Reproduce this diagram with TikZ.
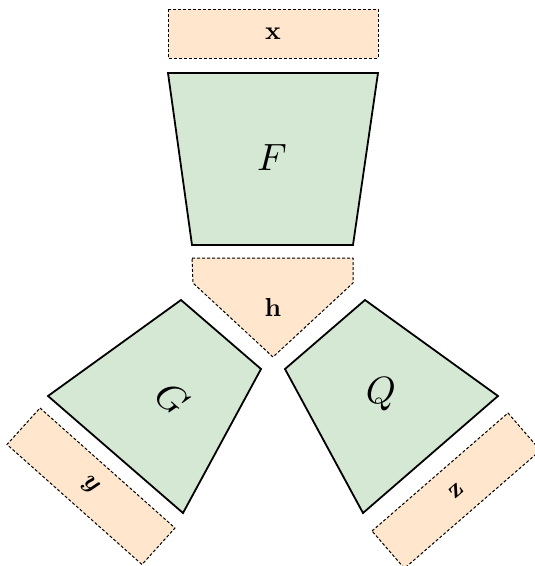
\documentclass[tikz,border=0pt]{standalone}
\usepackage{amsmath,bm}
\definecolor{blockgreen}{HTML}{D5E8D4}
\definecolor{varorange}{HTML}{FFE6CC}
\tikzset{
  netblock/.style={draw=black, line width=1.8pt, fill=blockgreen, line join=miter},
  varbox/.style={draw=black, line width=1pt, dash pattern=on 3pt off 2pt, fill=varorange},
  biglabel/.style={inner sep=0pt, scale=3.8},
  smalllabel/.style={inner sep=0pt, scale=2.6}
}
\begin{document}
\begin{tikzpicture}[x=1pt, y=-1pt]
\useasboundingbox (0,0) rectangle (535,566);
\clip (0,0) rectangle (535,566);
% x box
\draw[varbox] (168,9) rectangle (378,58);
% F block
\draw[netblock] (168,73) -- (378,73) -- (353,245) -- (192,245) -- cycle;
% h pentagon
\draw[varbox] (192,258) -- (353,258) -- (353,283) -- (273,357) -- (193,283) -- cycle;
% G block
\draw[netblock] (181,300) -- (261,369) -- (183,513) -- (48,396) -- cycle;
% Q block
\draw[netblock] (365,300) -- (498,396) -- (363,513) -- (285,369) -- cycle;
% y box
\draw[varbox] (40,408) -- (175,528) -- (142,564.5) -- (7,444.5) -- cycle;
% z box
\draw[varbox] (372,531) -- (508,413) -- (540.4,450.4) -- (404.4,568.4) -- cycle;
% labels
\node[smalllabel] (xl) at (273,34) {$\mathbf{x}$};
\node[biglabel] (Fl) at (272,158) {$F$};
\node[smalllabel] (hl) at (273,307) {$\mathbf{h}$};
\node[biglabel, rotate=-41] (Gl) at (172,398) {$G$};
\node[biglabel] (Ql) at (381,394) {$Q$};
\node[smalllabel, rotate=-42] (yl) at (90,486) {$\bm{y}$};
\node[smalllabel, rotate=41] (zl) at (456,491) {$\mathbf{z}$};
\end{tikzpicture}
\end{document}
